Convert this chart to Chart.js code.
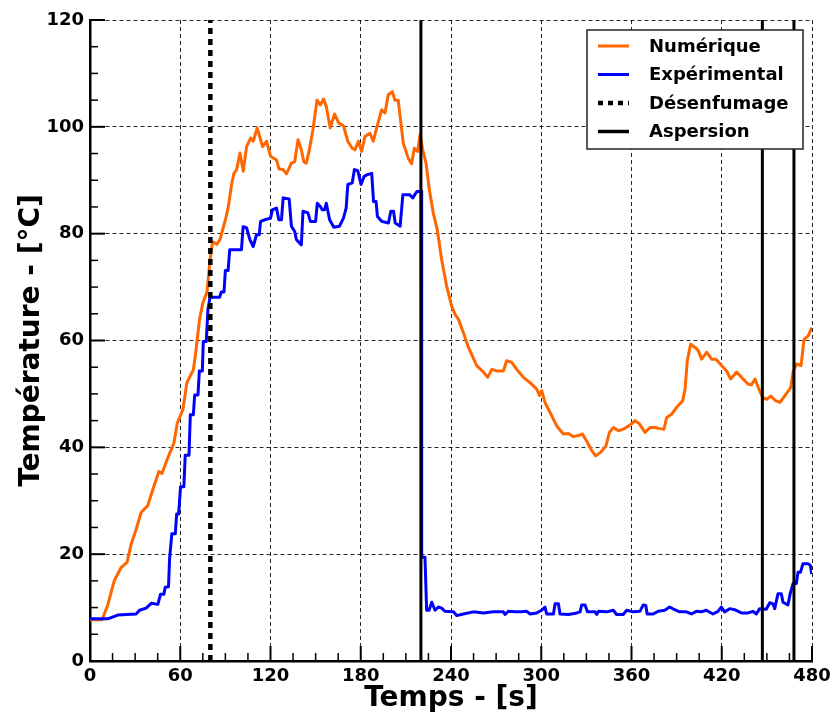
<!DOCTYPE html>
<html lang="fr">
<head>
<meta charset="utf-8">
<title>Température</title>
<script src="https://cdn.jsdelivr.net/npm/chart.js@4.4.1/dist/chart.umd.min.js"></script>
<style>
    html, body { margin: 0; padding: 0; background: #fff; }
    #wrap { position: relative; width: 834px; height: 716px; }
</style>
</head>
<body>
<div id="wrap"><canvas id="tempChart"></canvas></div>
<script>
// Courbe numérique (temps en s, température en °C)
const numTimes = [0, 8, 11.8, 16.2, 20.7, 24.7, 27.3, 30.5, 34, 38.4, 41.8, 45.8, 47.8, 51.8, 55.8, 58, 61.8, 64.4, 68.7, 70,
    72.9, 75.1, 77.8, 79.8, 81.5, 84.3, 86.5, 90.4, 92, 94, 95.7, 97.5, 99.7, 101.9, 104.1, 106.8, 108.5, 111.2, 114.7, 117.4,
    120, 124, 125.7, 128.4, 130.6, 133.9, 136.1, 138.3, 140.5, 142.1, 143.8, 145.6, 148.2, 150.9, 153.1, 155.3, 157.1, 159.7, 162.6, 165.4,
    168.5, 171.4, 174.3, 176.2, 178.4, 180.6, 182.8, 186.1, 188.3, 190.6, 193.9, 196.1, 198.3, 201, 202.7, 204.9, 208.3, 211.6, 213.8, 215.6,
    217.8, 219.4, 221.2, 223.4, 225.6, 228.2, 230.9, 233.8, 237.1, 240.5, 242.7, 244.9, 248.2, 251.6, 257.1, 261.5, 264.4, 267.1, 270.4, 274.8,
    277, 280.4, 283.7, 288.1, 292.6, 297, 298.8, 300.3, 302.5, 305.9, 310.3, 314.7, 318.1, 321.4, 324.7, 327.4, 330.7, 333.6, 336.2, 339.6,
    343.1, 345.3, 348, 351.3, 354.6, 358, 360.1, 362.3, 365.2, 369, 372.3, 375.6, 378.9, 381.6, 383.4, 386.7, 390, 394, 395.6, 397.1,
    399.3, 402.2, 404.4, 406.6, 409.9, 413.3, 416.1, 419.9, 423.2, 425.9, 429.9, 433.2, 437.6, 439.8, 442.1, 444.3, 447.2, 449.8, 452.7, 455.4,
    458.7, 462, 465.8, 467.6, 469.8, 472.7, 474.7, 477.6, 479.4, 480];
const numTemps = [7.7, 7.7, 10.5, 15.1, 17.5, 18.5, 21.8, 24.5, 27.8, 29.1, 32.1, 35.5, 35.1, 38.1, 40.8, 44.5, 47.1, 52.1, 54.5, 57.1,
    64.1, 67.1, 69.1, 75.1, 78.5, 78, 79, 83, 85.1, 89, 91.3, 92, 95.1, 91.7, 96.3, 97.9, 97.3, 99.8, 96.3, 97.3,
    94.5, 93.8, 92.1, 92, 91.2, 93.2, 93.5, 97.6, 95.7, 93.5, 93.2, 95.4, 99.4, 105, 104.1, 105.2, 103.8, 99.8, 102.4, 100.7,
    100.2, 97.3, 96, 95.7, 97.3, 95.4, 98.2, 98.8, 97.3, 99.8, 103.2, 102.6, 106, 106.6, 105, 105, 96.9, 94.1, 93.1, 96,
    95.4, 98.5, 95.7, 93.2, 88.2, 83.9, 80.7, 75.1, 70.2, 66.4, 64.9, 64, 61.5, 58.7, 55.3, 54.1, 53.1, 54.6, 54.3, 54.3,
    56.2, 55.9, 54.6, 53.1, 52.1, 50.9, 49.7, 50.6, 48.4, 46.5, 44, 42.5, 42.6, 42, 42.2, 42.5, 40.9, 39.4, 38.4, 39.1,
    40.3, 42.8, 43.7, 43.1, 43.4, 44, 44.4, 45, 44.4, 42.8, 43.7, 43.7, 43.5, 43.4, 45.6, 46.2, 47.5, 48.7, 50.9, 56.2,
    59.3, 58.7, 58.1, 56.5, 57.8, 56.5, 56.5, 55.3, 54.3, 52.8, 54.1, 53.1, 51.8, 51.7, 52.8, 51.2, 49.3, 49, 49.6, 48.8,
    48.4, 49.7, 51.2, 54.3, 55.6, 55.3, 60.2, 60.9, 62.2, 62];

// Courbe expérimentale
const expTimes = [0, 11.8, 18.4, 30.7, 32.9, 37.3, 40.7, 45.1, 46.9, 49.1, 50, 52.2, 52.9, 54.4, 56.7, 57.6, 58.9, 60.2, 62.4, 63.3,
    65.8, 66.7, 68.7, 69.6, 71.8, 72.7, 74.7, 75.3, 77.3, 78.4, 79.8, 86.2, 87.3, 89.1, 90, 91.8, 92.9, 100.7, 101.8, 104.1,
    106.3, 108.5, 110.7, 112.5, 113.4, 116.3, 120, 121.3, 124, 125.5, 127.3, 128.4, 132.4, 133.9, 136.1, 137.2, 140.5, 141.6, 144.9, 146.5,
    150, 151.1, 153.1, 154.4, 156, 157.1, 159.3, 162.1, 165.9, 168.5, 170.3, 171.4, 174.3, 175.8, 178, 180.2, 182.2, 184, 187.3, 188.5,
    190.2, 191.1, 194, 198.4, 200, 201.8, 202.9, 206.2, 208, 212.4, 214.6, 217.3, 218.6, 220.2, 220.5, 222.7, 223.8, 225.4, 227.2, 229.4,
    231.6, 233.8, 236, 241.6, 243.8, 248.2, 254.9, 261.5, 268.2, 274.8, 275.9, 278.1, 282.6, 287, 290.4, 292.6, 297, 300.3, 302.5, 303.6,
    308.1, 309.2, 311.4, 312.5, 318.1, 323.6, 325.8, 326.9, 329.1, 330.7, 335.8, 336.9, 338, 343.5, 347.9, 350.1, 354.5, 356.8, 361.2, 365.6,
    367.8, 369.5, 370.4, 374.3, 377.7, 382.1, 385.4, 388.7, 392, 396.5, 399.8, 403.1, 406.4, 409.7, 414.2, 417.5, 419.7, 421.9, 425.3, 428.6,
    433, 437.5, 440.8, 443, 445.2, 449.6, 451.9, 454.1, 455.2, 457.4, 459.6, 460.7, 464, 465.6, 467.4, 469.6, 470.7, 472.3, 474, 477.4,
    478.9, 479.8];
const expTemps = [7.9, 7.9, 8.6, 8.8, 9.5, 9.9, 10.8, 10.6, 12.5, 12.5, 13.8, 13.9, 19.1, 23.8, 23.8, 27.5, 27.5, 32.6, 32.6, 38.5,
    38.5, 46.1, 46.1, 49.8, 49.8, 54.3, 54.3, 59.8, 59.8, 65.8, 68.1, 68.1, 69.1, 69.1, 73.1, 73.1, 77, 77, 81.3, 81.1,
    78.9, 77.6, 79.8, 79.8, 82.3, 82.6, 82.9, 84.5, 84.8, 82.6, 82.6, 86.7, 86.5, 81.4, 80.4, 78.9, 77.9, 84.2, 83.9, 82.3,
    82.3, 85.7, 85.1, 84.5, 84.5, 85.7, 82.6, 81.2, 81.4, 82.9, 84.8, 89.2, 89.5, 92, 91.8, 89.2, 90.7, 91, 91.3, 86,
    86, 83.2, 82.3, 82, 84.2, 84.2, 82, 81.4, 87.3, 87.3, 86.7, 87.9, 87.9, 88, 19.4, 19.4, 9.5, 9.5, 11, 9.5,
    10.1, 9.9, 9.3, 9.2, 8.5, 8.8, 9.2, 9, 9.2, 9.2, 8.7, 9.3, 9.2, 9.2, 9.3, 8.8, 9, 9.5, 10.1, 8.8,
    8.8, 10.7, 10.7, 8.8, 8.7, 9, 9.2, 10.5, 10.5, 9.2, 9.2, 8.7, 9.3, 9.2, 9.5, 8.7, 8.7, 9.5, 9.2, 9.3,
    10.5, 10.4, 8.8, 8.8, 9.3, 9.5, 10.1, 9.6, 9.2, 9.2, 8.8, 9.3, 9.2, 9.5, 8.8, 9.3, 10.1, 9.2, 9.8, 9.6,
    9, 9, 9.3, 8.8, 9.8, 9.7, 10.9, 10.7, 9.8, 12.6, 12.6, 11, 10.5, 12.7, 14.5, 14.5, 16.6, 16.6, 18.2, 18.2,
    17.9, 16.3];

// Instants des évènements
const desenfumageTimes = [80];
const aspersionTimes = [220, 447, 468];

// Graduations
const xTicks = [0, 60, 120, 180, 240, 300, 360, 420, 480];
const yTicks = [0, 20, 40, 60, 80, 100, 120];
const xMinorStep = 15;
const yMinorStep = 5;

const FONT = 'DejaVu Sans';

function toPoints(times, temps) {
    return times.map((t, i) => ({ x: t, y: temps[i] }));
}

// Une ligne verticale par instant, séparées par des trous
function verticalLines(times) {
    const pts = [];
    times.forEach(t => {
        pts.push({ x: t, y: yTicks[0] }, { x: t, y: yTicks[yTicks.length - 1] }, { x: t, y: null });
    });
    return pts;
}

// Petites graduations tournées vers l'intérieur
const innerTicks = {
    id: 'innerTicks',
    afterDatasetsDraw(chart) {
        const { ctx, chartArea, scales } = chart;
        ctx.save();
        ctx.strokeStyle = '#000';
        const xMin = xTicks[0], xMax = xTicks[xTicks.length - 1];
        for (let v = xMin; v <= xMax; v += xMinorStep) {
            const major = xTicks.includes(v);
            const px = scales.x.getPixelForValue(v);
            ctx.lineWidth = major ? 2 : 1.5;
            ctx.beginPath();
            ctx.moveTo(px, chartArea.bottom);
            ctx.lineTo(px, chartArea.bottom - (major ? 15 : 8));
            ctx.stroke();
        }
        const yMin = yTicks[0], yMax = yTicks[yTicks.length - 1];
        for (let v = yMin; v <= yMax; v += yMinorStep) {
            const major = yTicks.includes(v);
            const py = scales.y.getPixelForValue(v);
            ctx.lineWidth = major ? 2 : 1.5;
            ctx.beginPath();
            ctx.moveTo(chartArea.left, py);
            ctx.lineTo(chartArea.left + (major ? 15 : 8), py);
            ctx.stroke();
        }
        ctx.restore();
    }
};

// Légende encadrée dans le coin haut droit
const boxLegend = {
    id: 'boxLegend',
    afterDraw(chart) {
        const { ctx } = chart;
        const left = 587, top = 30, width = 216, height = 119;
        ctx.save();
        ctx.fillStyle = '#fff';
        ctx.fillRect(left, top, width, height);
        ctx.strokeStyle = '#222';
        ctx.lineWidth = 1.5;
        ctx.strokeRect(left, top, width, height);
        ctx.font = 'bold 18px "' + FONT + '"';
        ctx.textBaseline = 'middle';
        ctx.textAlign = 'left';
        chart.data.datasets.forEach((ds, i) => {
            const y = top + 16 + i * 28.5;
            ctx.strokeStyle = ds.borderColor;
            ctx.lineWidth = ds.legendWidth;
            ctx.setLineDash(ds.legendDash);
            ctx.beginPath();
            ctx.moveTo(left + 11, y);
            ctx.lineTo(left + 42, y);
            ctx.stroke();
            ctx.setLineDash([]);
            ctx.fillStyle = '#000';
            ctx.fillText(ds.label, left + 62, y + 1);
        });
        ctx.restore();
    }
};

document.addEventListener('DOMContentLoaded', () => {
    const ctx = document.getElementById('tempChart').getContext('2d');

    const tickFont = { family: FONT, size: 18, weight: 'bold' };
    const titleFont = { family: FONT, size: 28, weight: 'bold', lineHeight: 1.2 };
    const gridOpts = { color: 'rgba(0,0,0,0.85)', lineWidth: 1, drawTicks: false };
    const borderOpts = { display: true, color: '#000', width: 2.5, dash: [4, 3] };

    new Chart(ctx, {
        type: 'line',
        data: {
            datasets: [
                {
                    label: 'Numérique',
                    data: toPoints(numTimes, numTemps),
                    borderColor: '#ff6600',
                    borderWidth: 3,
                    legendWidth: 3,
                    legendDash: [],
                    order: 3
                },
                {
                    label: 'Expérimental',
                    data: toPoints(expTimes, expTemps),
                    borderColor: '#0000ff',
                    borderWidth: 3,
                    legendWidth: 3,
                    legendDash: [],
                    order: 2
                },
                {
                    label: 'Désenfumage',
                    data: verticalLines(desenfumageTimes),
                    borderColor: '#000',
                    borderWidth: 4.5,
                    borderDash: [6, 5],
                    legendWidth: 4.5,
                    legendDash: [5, 5],
                    order: 1
                },
                {
                    label: 'Aspersion',
                    data: verticalLines(aspersionTimes),
                    borderColor: '#000',
                    borderWidth: 3,
                    legendWidth: 3.5,
                    legendDash: [],
                    order: 0
                }
            ]
        },
        options: {
            responsive: true,
            maintainAspectRatio: false,
            animation: false,
            spanGaps: false,
            elements: {
                point: { radius: 0, hoverRadius: 0 },
                line: { tension: 0, fill: false, borderJoinStyle: 'round' }
            },
            layout: { padding: { top: 20, right: 22, left: 0, bottom: 0 } },
            plugins: {
                legend: { display: false },
                tooltip: { enabled: false }
            },
            scales: {
                x: {
                    type: 'linear',
                    min: xTicks[0],
                    max: xTicks[xTicks.length - 1],
                    afterBuildTicks: scale => { scale.ticks = xTicks.map(v => ({ value: v })); },
                    afterFit: scale => {
                        scale.height = 55;
                        scale.paddingLeft = 0;
                        scale.paddingRight = 0;
                    },
                    ticks: { font: tickFont, color: '#000', padding: 5, maxRotation: 0, autoSkip: false },
                    grid: gridOpts,
                    border: borderOpts,
                    title: {
                        display: true,
                        text: 'Temps - [s]',
                        color: '#000',
                        font: titleFont,
                        padding: { top: 0, bottom: 0 }
                    }
                },
                y: {
                    type: 'linear',
                    min: yTicks[0],
                    max: yTicks[yTicks.length - 1],
                    afterBuildTicks: scale => { scale.ticks = yTicks.map(v => ({ value: v })); },
                    afterFit: scale => {
                        scale.width = 90;
                        scale.paddingTop = 0;
                        scale.paddingBottom = 0;
                    },
                    ticks: { font: tickFont, color: '#000', padding: 6, autoSkip: false },
                    grid: gridOpts,
                    border: borderOpts,
                    title: {
                        display: true,
                        text: 'Température - [°C]',
                        color: '#000',
                        font: titleFont,
                        padding: { top: 15, bottom: 0 }
                    }
                }
            }
        },
        plugins: [innerTicks, boxLegend]
    });
});
</script>
</body>
</html>
